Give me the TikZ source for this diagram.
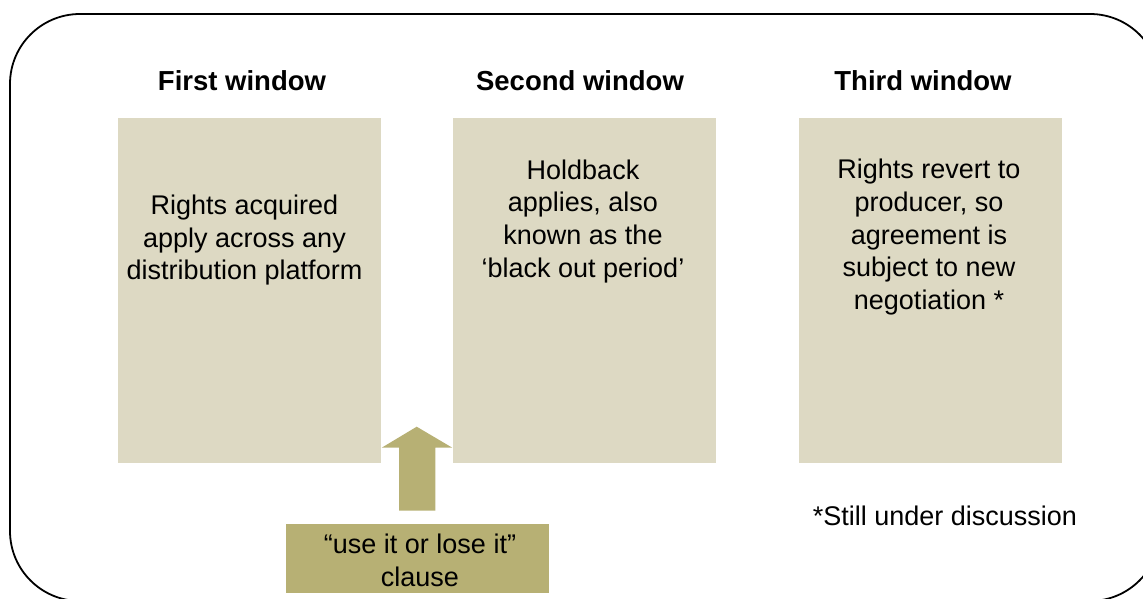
\documentclass[tikz,border=0pt]{standalone}
\usepackage{fontspec}
\setmainfont{Liberation Sans}
\definecolor{tanbox}{HTML}{DDD9C3}
\definecolor{olivebox}{HTML}{B7B074}
\begin{document}
\begin{tikzpicture}[x=1pt,y=-1pt,
  panel/.style={fill=tanbox, draw=none, inner sep=0pt, minimum width=263pt, minimum height=345pt},
  bodytext/.style={font=\fontsize{27}{32.7}\selectfont, align=center, inner sep=0pt, anchor=north},
  headtext/.style={font=\fontsize{27.5}{33}\selectfont\bfseries, inner sep=0pt, anchor=north},
  clausebox/.style={fill=olivebox, draw=none, inner sep=0pt, minimum width=263pt, minimum height=68.7pt}]
\useasboundingbox (0,0) rectangle (1143,599);
\clip (0,0) rectangle (1143,599);
\draw[line width=1.8pt, rounded corners=70pt] (10,14) rectangle (1160,601);

\node[panel] (b1) at (249.6,290.8) {};
\node[panel] (b2) at (584.2,290.8) {};
\node[panel] (b3) at (930.3,290.8) {};

\node[headtext] (h1) at (242,70.3) {First window};
\node[headtext] (h2) at (580,70.3) {Second window};
\node[headtext] (h3) at (923,70.3) {Third window};

\node[bodytext] (t1) at (244.5,194.6) {Rights acquired\\apply across any\\distribution platform};
\node[bodytext] (t2) at (583,159.3) {Holdback\\applies, also\\known as the\\‘black out period’};
\node[bodytext] (t3) at (929,159) {Rights revert to\\producer, so\\agreement is\\subject to new\\negotiation *};

\node[clausebox] (cl) at (417.5,558.4) {};
\node[bodytext] (clt) at (420,534.2) {“use it or lose it”\\clause};

\fill[olivebox] (399,510.7) -- (399,447.7) -- (381.7,447.7) -- (416.7,426.7)
  -- (452.3,447.7) -- (435.3,447.7) -- (435.3,510.7) -- cycle;

\node[bodytext] (note) at (945,506) {*Still under discussion};
\end{tikzpicture}
\end{document}
